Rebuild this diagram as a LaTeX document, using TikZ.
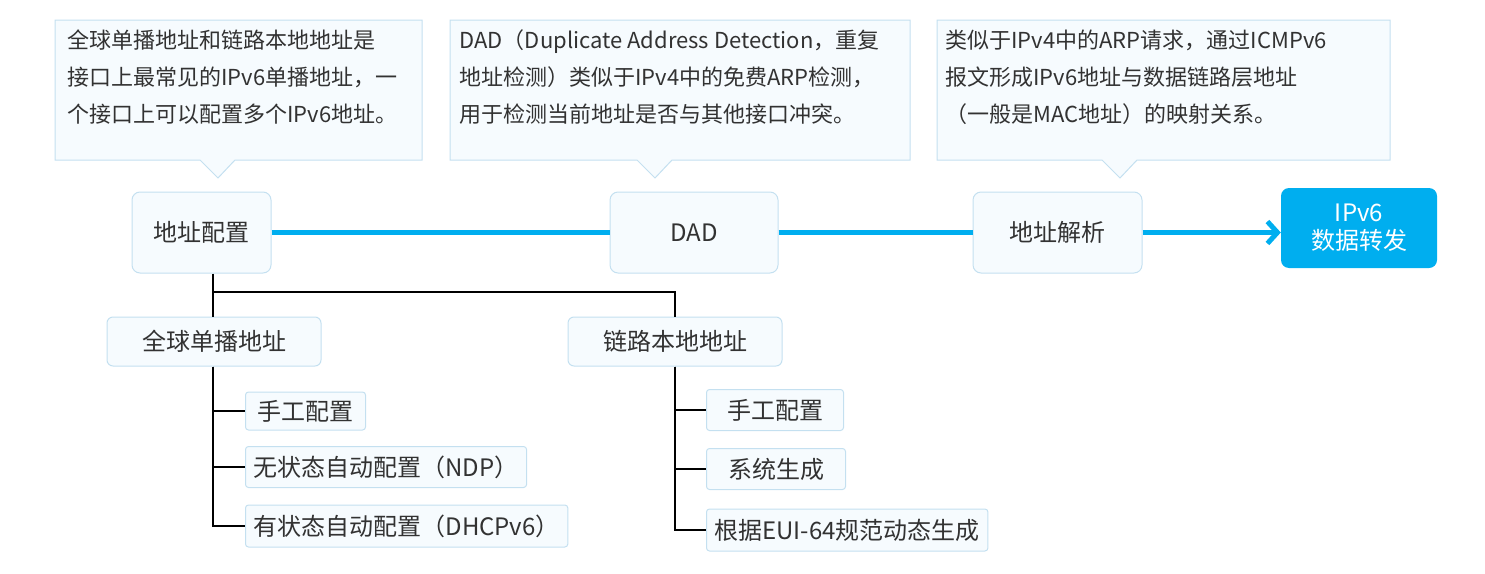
\documentclass[tikz,border=0pt]{standalone}
\usepackage{fontspec}
\setmainfont{Noto Sans CJK SC}
\usetikzlibrary{arrows.meta}
\definecolor{boxfill}{RGB}{246,251,254}
\definecolor{boxline}{RGB}{196,224,240}
\definecolor{flowblue}{RGB}{0,174,239}
\definecolor{ink}{RGB}{50,50,50}
\tikzset{
  note/.style={draw=boxline,fill=boxfill,line width=1pt},
  stage/.style={draw=boxline,fill=boxfill,rounded corners=8pt,line width=1pt,text=ink,font=\fontsize{24}{28}\selectfont},
  leaf/.style={draw=boxline,fill=boxfill,rounded corners=3pt,line width=1pt,anchor=west,inner xsep=8pt,text=ink,font=\fontsize{24}{28}\selectfont},
  flow/.style={flowblue,line width=5pt},
  tree/.style={black,line width=1.6pt}
}
\begin{document}
\begin{tikzpicture}[x=1pt,y=-1pt]
\useasboundingbox (0,0) rectangle (1485,573);
% callouts
\draw[note] (55,20) -- (422,20) -- (422,160) -- (235,160) -- (218,178) -- (200,160) -- (55,160) -- cycle;
\draw[note] (450,20) -- (910,20) -- (910,160) -- (672,160) -- (655,178) -- (637,160) -- (450,160) -- cycle;
\draw[note] (937,20) -- (1390,20) -- (1390,160) -- (1137,160) -- (1120,178) -- (1102,160) -- (937,160) -- cycle;
\node[anchor=north west,align=left,text=ink,font=\fontsize{22}{37}\selectfont] (n1) at (64,26)
  {全球单播地址和链路本地地址是\\接口上最常见的IPv6单播地址，一\\个接口上可以配置多个IPv6地址。};
\node[anchor=north west,align=left,text=ink,font=\fontsize{22}{37}\selectfont] (n2) at (456,26)
  {DAD（Duplicate Address Detection，重复\\地址检测）类似于IPv4中的免费ARP检测，\\用于检测当前地址是否与其他接口冲突。};
\node[anchor=north west,align=left,text=ink,font=\fontsize{22}{37}\selectfont] (n3) at (942,26)
  {类似于IPv4中的ARP请求，通过ICMPv6\\报文形成IPv6地址与数据链路层地址\\（一般是MAC地址）的映射关系。};
% main flow
\node[stage,minimum width=139pt,minimum height=81pt] (cfg) at (201.5,232.5) {地址配置};
\node[stage,minimum width=168pt,minimum height=81pt] (dad) at (694,232.5) {DAD};
\node[stage,minimum width=169pt,minimum height=81pt] (res) at (1057.5,232.5) {地址解析};
\node[fill=flowblue,text=white,rounded corners=8pt,minimum width=156pt,minimum height=80pt,align=center,
  font=\fontsize{24}{28}\selectfont] (fwd) at (1359,228) {IPv6\\数据转发};
\draw[flow] (cfg) -- (dad);
\draw[flow] (dad) -- (res);
\draw[flow,-{Straight Barb[length=10pt,width=22pt,line width=5pt]}] (res) -- (fwd.west |- res);
% address types
\node[stage,rounded corners=6pt,minimum width=214pt,minimum height=49pt] (gua) at (214,341.5) {全球单播地址};
\node[stage,rounded corners=6pt,minimum width=214pt,minimum height=49pt] (lla) at (675,341.5) {链路本地地址};
\coordinate (fork) at (213,292);
\draw[tree] (cfg.south -| fork) -- (fork) -- (fork -| lla.north) -- (lla.north);
\draw[tree] (fork) -- (gua.north -| fork);
% leaves
\node[leaf,minimum height=38pt,minimum width=120pt] (g1) at (245,411) {手工配置};
\node[leaf,minimum height=41pt] (g2) at (245,467) {无状态自动配置（NDP）};
\node[leaf,minimum height=42pt] (g3) at (245,526) {有状态自动配置（DHCPv6）};
\node[leaf,minimum height=41pt,minimum width=137pt] (l1) at (706,410) {手工配置};
\node[leaf,minimum height=41pt,minimum width=139pt] (l2) at (706,469) {系统生成};
\node[leaf,minimum height=42pt] (l3) at (706,530) {根据EUI-64规范动态生成};
\draw[tree] (gua.south -| fork) |- (g3.west);
\draw[tree] (gua.south -| fork) |- (g1.west);
\draw[tree] (gua.south -| fork) |- (g2.west);
\draw[tree] (lla.south) |- (l3.west);
\draw[tree] (lla.south) |- (l1.west);
\draw[tree] (lla.south) |- (l2.west);
\end{tikzpicture}
\end{document}
